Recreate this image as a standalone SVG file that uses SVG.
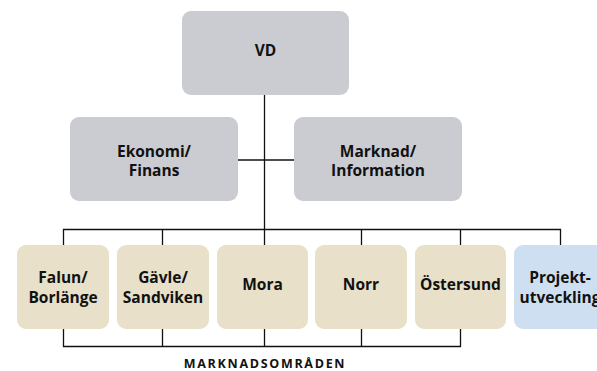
<svg xmlns="http://www.w3.org/2000/svg" width="597" height="371" viewBox="0 0 597 371">
<style>
.g{fill:#cbccd1}
.b{fill:#e8e0c9}
.p{fill:#cfdff2}
.t{font-family:"Open Sans","Liberation Sans",sans-serif;font-weight:bold;font-size:15.5px;fill:#111;text-anchor:middle}
.c{stroke:#111;stroke-width:1.3;fill:none}
.lbl{font-family:"Open Sans","Liberation Sans",sans-serif;font-weight:bold;font-size:12.5px;fill:#111;text-anchor:middle;letter-spacing:1.7px}
</style>
<rect width="597" height="371" fill="#fff"/>
<g id="connectors" class="c">
<line x1="264.5" y1="95" x2="264.5" y2="245"/>
<line x1="238" y1="160" x2="294" y2="160"/>
<polyline points="63.5,245 63.5,229.5 560.5,229.5 560.5,245"/>
<line x1="162.5" y1="229.5" x2="162.5" y2="245"/>
<line x1="361.5" y1="229.5" x2="361.5" y2="245"/>
<line x1="460.5" y1="229.5" x2="460.5" y2="245"/>
<polyline points="63.5,329 63.5,346.5 460.5,346.5 460.5,329"/>
<line x1="162.5" y1="329" x2="162.5" y2="346.5"/>
<line x1="264.5" y1="329" x2="264.5" y2="346.5"/>
<line x1="361.5" y1="329" x2="361.5" y2="346.5"/>
</g>
<g id="vd"><rect class="g" x="182" y="11" width="167" height="84" rx="9"/><text class="t" x="265.5" y="56">VD</text></g>
<g id="ekonomi"><rect class="g" x="70" y="117" width="168" height="84" rx="9"/><text class="t" x="154" y="156.5">Ekonomi/</text><text class="t" x="154" y="176">Finans</text></g>
<g id="marknad"><rect class="g" x="294" y="117" width="168" height="84" rx="9"/><text class="t" x="378" y="156.5">Marknad/</text><text class="t" x="378" y="176">Information</text></g>
<g id="falun"><rect class="b" x="17" y="245" width="92" height="84" rx="9"/><text class="t" x="63" y="283">Falun/</text><text class="t" x="63" y="303">Borlänge</text></g>
<g id="gavle"><rect class="b" x="117" y="245" width="92" height="84" rx="9"/><text class="t" x="163" y="283">Gävle/</text><text class="t" x="163" y="303">Sandviken</text></g>
<g id="mora"><rect class="b" x="217" y="245" width="91" height="84" rx="9"/><text class="t" x="262.5" y="290">Mora</text></g>
<g id="norr"><rect class="b" x="315" y="245" width="92" height="84" rx="9"/><text class="t" x="361" y="290">Norr</text></g>
<g id="ostersund"><rect class="b" x="415" y="245" width="91" height="84" rx="9"/><text class="t" x="460.5" y="290">Östersund</text></g>
<g id="projekt"><rect class="p" x="514" y="245" width="92" height="84" rx="9"/><text class="t" x="560" y="283">Projekt-</text><text class="t" x="560" y="303">utveckling</text></g>
<text class="lbl" x="265" y="368">MARKNADSOMRÅDEN</text>
</svg>
